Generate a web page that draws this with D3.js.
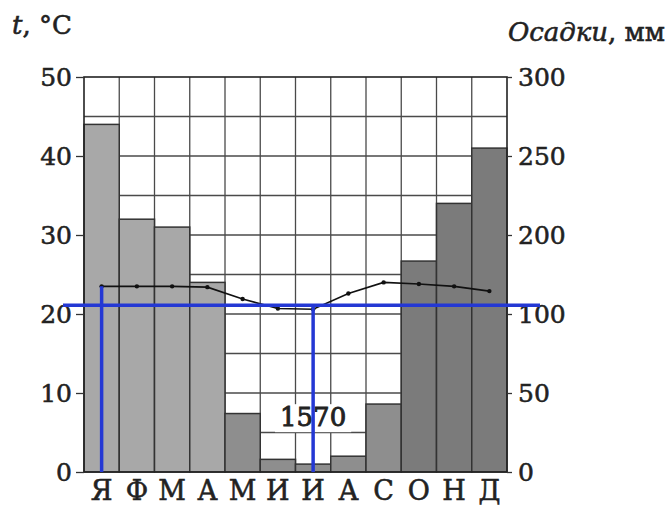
<!DOCTYPE html>
<html>
<head>
<meta charset="utf-8">
<script src="https://cdnjs.cloudflare.com/ajax/libs/d3/7.8.5/d3.min.js"></script>
<style>
  body { margin: 0; background: #fff; }
  text { font-family: "DejaVu Serif", serif; fill: #222; stroke: #222; stroke-width: 0.55px; }
</style>
</head>
<body>
<div id="chart"></div>
<script>

// months, precipitation (mm) and temperature (°C)
var months        = [ 'Я', 'Ф', 'М', 'А', 'М', 'И', 'И', 'А', 'С', 'О', 'Н', 'Д' ];
var precip        = [ 270, 210, 205, 140, 37, 8, 5, 10, 43, 167, 220, 255 ];
var temps         = [ 23.5, 23.5, 23.5, 23.4, 21.9, 20.7, 20.6, 22.6, 24.0, 23.8, 23.5, 22.9 ];

// axis ticks as printed (right axis is not linear: 150 is missing)
var temp_ticks    = [ 0, 10, 20, 30, 40, 50 ];
var precip_ticks  = [ 0, 50, 100, 200, 250, 300 ];
var precip_breaks = [ 0, 100, 200, 300 ];   // precip values that line up with...
var temp_breaks   = [ 0, 20, 30, 50 ];      // ...these temperatures

// blue pen marks drawn over the chart
var mark_temp     = 21.1;
var mark_months   = [ 0, 6 ];

// --------------------------------------------------------

var chart_width   = 669;
var chart_height  = 507;
var left          = 84;
var right         = 507;
var top_y         = 77;
var bottom_y      = 472;

var svg = d3.select( '#chart' )
	.append( 'svg' )
	.attr( 'width', chart_width )
	.attr( 'height', chart_height );

// --------------------------------------------------------
// Scales

var x_scale = d3.scaleBand()
	.domain( d3.range( months.length ) )
	.range( [ left, right ] )
	.padding( 0 );

var y_temp = d3.scaleLinear()
	.domain( [ 0, 50 ] )
	.range( [ bottom_y, top_y ] );

var y_precip = d3.scaleLinear()
	.domain( precip_breaks )
	.range( temp_breaks.map( (t) => y_temp( t ) ) );

var bar_color = function( i ){
	if ( i < 4 ) return '#a8a8a8';
	if ( i < 9 ) return '#8e8e8e';
	return '#7b7b7b';
};

// --------------------------------------------------------
// Grid

svg.append( 'g' )
	.selectAll( 'line' )
	.data( d3.range( 5, 50, 5 ) )
	.enter()
	.append( 'line' )
	.attr( 'x1', left )
	.attr( 'x2', right )
	.attr( 'y1', (d) => y_temp( d ) )
	.attr( 'y2', (d) => y_temp( d ) )
	.attr( 'stroke', '#4a4a4a' )
	.attr( 'stroke-width', 1.3 );

svg.append( 'g' )
	.selectAll( 'line' )
	.data( d3.range( 1, months.length ) )
	.enter()
	.append( 'line' )
	.attr( 'x1', (d) => x_scale( d ) )
	.attr( 'x2', (d) => x_scale( d ) )
	.attr( 'y1', top_y )
	.attr( 'y2', bottom_y )
	.attr( 'stroke', '#4a4a4a' )
	.attr( 'stroke-width', 1.3 );

// --------------------------------------------------------
// Bars

svg.append( 'g' )
	.selectAll( 'rect' )
	.data( precip )
	.enter()
	.append( 'rect' )
	.attr( 'x', (d, i) => x_scale( i ) )
	.attr( 'y', (d) => y_precip( d ) )
	.attr( 'width', x_scale.bandwidth() )
	.attr( 'height', (d) => bottom_y - y_precip( d ) )
	.attr( 'fill', (d, i) => bar_color( i ) )
	.attr( 'stroke', '#333' )
	.attr( 'stroke-width', 1.5 );

// frame
svg.append( 'rect' )
	.attr( 'x', left )
	.attr( 'y', top_y )
	.attr( 'width', right - left )
	.attr( 'height', bottom_y - top_y )
	.attr( 'fill', 'none' )
	.attr( 'stroke', '#222' )
	.attr( 'stroke-width', 1.6 );

// --------------------------------------------------------
// Annual total

var total = d3.sum( precip );
var total_x = x_scale( 6 ) + x_scale.bandwidth() / 2;
var total_y = y_temp( 5.8 );

var total_g = svg.append( 'g' );
var total_bg = total_g.append( 'rect' ).attr( 'fill', '#fff' );
var total_text = total_g.append( 'text' )
	.attr( 'x', total_x )
	.attr( 'y', total_y )
	.attr( 'text-anchor', 'middle' )
	.style( 'font-size', '26px' )
	.style( 'stroke-width', '0.9px' )
	.text( total );
var bb = total_text.node().getBBox();
total_bg
	.attr( 'x', bb.x - 5 )
	.attr( 'y', bb.y + 2 )
	.attr( 'width', bb.width + 10 )
	.attr( 'height', bb.height - 2 );

// --------------------------------------------------------
// Temperature line

var line = d3.line()
	.x( (d, i) => x_scale( i ) + x_scale.bandwidth() / 2 )
	.y( (d) => y_temp( d ) );

svg.append( 'path' )
	.datum( temps )
	.attr( 'd', line )
	.attr( 'fill', 'none' )
	.attr( 'stroke', '#111' )
	.attr( 'stroke-width', 1.6 );

svg.append( 'g' )
	.selectAll( 'circle' )
	.data( temps )
	.enter()
	.append( 'circle' )
	.attr( 'cx', (d, i) => x_scale( i ) + x_scale.bandwidth() / 2 )
	.attr( 'cy', (d) => y_temp( d ) )
	.attr( 'r', 2.2 )
	.attr( 'fill', '#111' );

// --------------------------------------------------------
// Axes

var y_axis_left = d3.axisLeft( y_temp )
	.tickValues( temp_ticks )
	.tickSize( 8 )
	.tickPadding( 4 );

var gl = svg.append( 'g' )
	.attr( 'class', 'y-axis' )
	.attr( 'transform', 'translate(' + left + ',0)' )
	.call( y_axis_left );

var y_axis_right = d3.axisRight( y_precip )
	.tickValues( precip_ticks )
	.tickSize( 5 )
	.tickPadding( 6 );

var gr = svg.append( 'g' )
	.attr( 'class', 'y-axis-right' )
	.attr( 'transform', 'translate(' + right + ',0)' )
	.call( y_axis_right );

[ gl, gr ].forEach( function( g ){
	g.select( '.domain' ).remove();
	g.selectAll( 'line' ).attr( 'stroke', '#333' ).attr( 'stroke-width', 1.3 );
	g.selectAll( 'text' )
		.attr( 'fill', '#222' )
		.style( 'font-family', '"DejaVu Serif", serif' )
		.style( 'font-size', '25px' );
});

// month letters
svg.append( 'g' )
	.selectAll( 'text' )
	.data( months )
	.enter()
	.append( 'text' )
	.attr( 'x', (d, i) => x_scale( i ) + x_scale.bandwidth() / 2 )
	.attr( 'y', 500 )
	.attr( 'text-anchor', 'middle' )
	.style( 'font-size', '27px' )
	.text( (d) => d );

// axis titles
var t_title = svg.append( 'text' )
	.attr( 'x', 12 )
	.attr( 'y', 34 )
	.style( 'font-size', '26px' );
t_title.append( 'tspan' ).style( 'font-style', 'italic' ).text( 't' );
t_title.append( 'tspan' ).text( ', °C' );

var p_title = svg.append( 'text' )
	.attr( 'x', 665 )
	.attr( 'y', 41 )
	.attr( 'text-anchor', 'end' )
	.style( 'font-size', '26px' );
p_title.append( 'tspan' ).style( 'font-style', 'italic' ).text( 'Осадки' );
p_title.append( 'tspan' ).text( ', мм' );

// --------------------------------------------------------
// Blue pen marks

var blue = '#2438d4';

svg.append( 'line' )
	.attr( 'x1', 63 )
	.attr( 'x2', 540 )
	.attr( 'y1', y_temp( mark_temp ) )
	.attr( 'y2', y_temp( mark_temp ) )
	.attr( 'stroke', blue )
	.attr( 'stroke-width', 3.5 );

svg.append( 'g' )
	.selectAll( 'line' )
	.data( mark_months )
	.enter()
	.append( 'line' )
	.attr( 'x1', (d) => x_scale( d ) + x_scale.bandwidth() / 2 )
	.attr( 'x2', (d) => x_scale( d ) + x_scale.bandwidth() / 2 )
	.attr( 'y1', (d) => y_temp( Math.max( temps[d], mark_temp ) ) )
	.attr( 'y2', bottom_y )
	.attr( 'stroke', blue )
	.attr( 'stroke-width', 3.5 );

</script>
</body>
</html>
